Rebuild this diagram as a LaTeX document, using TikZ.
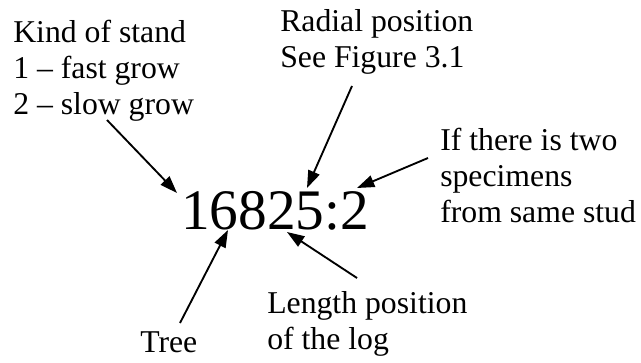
\documentclass[tikz,border=0pt]{standalone}
\usepackage{fontspec}
\setmainfont{Liberation Serif}
\usetikzlibrary{arrows.meta}
\begin{document}
\begin{tikzpicture}[x=0.75pt,y=-0.75pt,
  lbl/.style={inner sep=0pt,anchor=base west,align=left,font=\fontsize{23.8}{27}\selectfont},
  big/.style={inner sep=0pt,anchor=base west,font=\fontsize{43}{50}\selectfont},
  arr/.style={line width=1.4pt,-{Triangle[length=13pt,width=9pt]}}]
\useasboundingbox (0,0) rectangle (641,363);
\node[lbl] (kind) at (13,115) {Kind of stand\\1 – fast grow\\2 – slow grow};
\node[lbl] (radial) at (280,68) {Radial position\\See Figure 3.1};
\node[lbl] (two) at (440,222) {If there is two\\specimens\\from same stud};
\node[lbl] (length) at (267,349) {Length position\\of the log};
\node[lbl] (tree) at (140,352) {Tree};
\node[big] (code) at (181,229) {16825:2};
\coordinate (s1) at (107,120); \coordinate (t1) at (177,193);
\coordinate (s2) at (352,86);  \coordinate (t2) at (307,188);
\coordinate (s3) at (428,158); \coordinate (t3) at (357,188);
\coordinate (s4) at (180,323); \coordinate (t4) at (228,230);
\coordinate (s5) at (357,278); \coordinate (t5) at (287,232);
\draw[arr] (s1) -- (t1);
\draw[arr] (s2) -- (t2);
\draw[arr] (s3) -- (t3);
\draw[arr] (s4) -- (t4);
\draw[arr] (s5) -- (t5);
\end{tikzpicture}
\end{document}
